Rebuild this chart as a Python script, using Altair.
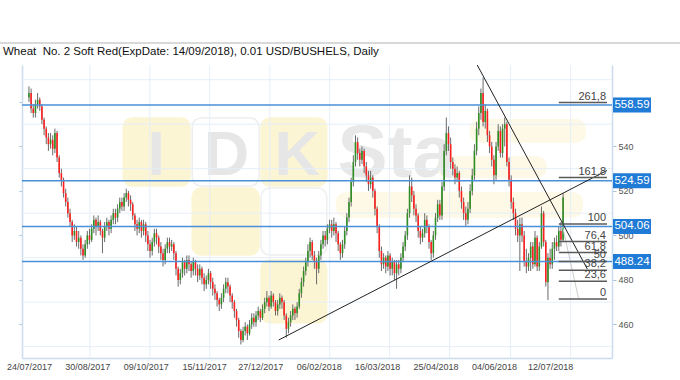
import altair as alt
import pandas as pd

# ---------------- data ----------------
title_text = "Wheat\u00a0 No. 2 Soft Red(ExpDate: 14/09/2018), 0.01 USD/BUSHELS, Daily"

first_open = 562
closes = [
    564, 557, 555, 559, 561, 558, 552, 548, 544, 541,
    543, 539, 546, 535, 528, 525, 519, 515, 510, 506,
    500, 502, 497, 499, 494, 491, 496, 500, 498, 503,
    507, 504, 506, 502, 499, 504, 506, 503, 507, 510,
    508, 512, 515, 513, 517, 519, 516, 514, 509, 505,
    503, 506, 502, 505, 500, 496, 493, 497, 501, 499,
    495, 492, 489, 494, 497, 495, 496, 492, 485, 480,
    483, 488, 485, 489, 487, 484, 488, 485, 482, 485,
    481, 478, 480, 483, 479, 476, 474, 471, 469, 472,
    476, 479, 477, 473, 470, 466, 462, 457, 453, 457,
    459, 456, 460, 463, 461, 464, 466, 463, 467, 470,
    472, 468, 473, 470, 466, 469, 472, 470, 464, 458,
    461, 464, 467, 465, 468, 474, 479, 484, 488, 493,
    497, 491, 488, 485, 491, 496, 500, 498, 503, 505,
    502, 505, 501, 496, 492, 496, 502, 508, 515, 524,
    533, 542, 537, 534, 538, 531, 527, 523, 526, 520,
    512, 504, 493, 487, 490, 486, 491, 485, 488, 483,
    487, 485, 490, 495, 500, 510, 522, 518, 512, 509,
    502, 499, 501, 507, 504, 497, 492, 500, 508, 514,
    509, 522, 538, 546, 541, 533, 530, 526, 528, 520,
    515, 510, 507, 512, 520, 527, 538, 548, 555, 564,
    551, 556, 545, 540, 534, 527, 540, 547, 537, 548,
    550, 533, 525, 515, 510, 503, 500, 505, 500, 488,
    486, 490, 495, 487, 499, 486, 495, 510, 497, 479,
    490, 487, 494, 497, 495, 502, 498, 517,
]
highs = [
    567, 566, 559, 561, 564, 562, 559, 553, 549, 546,
    546, 545, 548, 547, 536, 530, 526, 521, 517, 512,
    507, 505, 504, 502, 500, 496, 498, 502, 503, 505,
    509, 508, 509, 507, 503, 506, 508, 507, 509, 512,
    512, 514, 517, 517, 519, 521, 520, 518, 515, 510,
    507, 508, 507, 507, 506, 502, 498, 499, 503, 503,
    500, 497, 494, 496, 499, 499, 498, 497, 493, 486,
    485, 490, 489, 491, 491, 488, 490, 489, 487, 487,
    486, 483, 482, 485, 484, 481, 478, 475, 472, 474,
    478, 481, 481, 478, 474, 471, 467, 463, 458, 459,
    461, 460, 462, 465, 465, 466, 468, 467, 469, 472,
    475, 473, 475, 474, 471, 471, 474, 473, 471, 465,
    463, 466, 469, 468, 470, 476, 481, 486, 490, 496,
    499, 498, 493, 490, 493, 498, 502, 502, 505, 507,
    507, 508, 506, 502, 497, 498, 504, 510, 517, 526,
    536, 545, 544, 539, 540, 539, 533, 529, 529, 527,
    521, 513, 505, 495, 492, 491, 493, 492, 490, 489,
    489, 489, 492, 497, 502, 512, 527, 526, 520, 514,
    510, 504, 503, 510, 509, 505, 498, 502, 510, 516,
    516, 524, 541, 553, 549, 544, 535, 532, 531, 529,
    522, 517, 513, 515, 523, 530, 541, 551, 558, 566,
    571, 559, 557, 547, 542, 536, 542, 550, 549, 550,
    553, 551, 535, 527, 517, 512, 507, 508, 508, 502,
    494, 492, 497, 497, 502, 500, 497, 513, 511, 498,
    492, 494, 497, 499, 500, 504, 506, 519,
]
lows = [
    560, 555, 553, 553, 557, 556, 550, 545, 541, 538,
    539, 536, 537, 533, 526, 522, 517, 513, 508, 504,
    497, 498, 495, 494, 491, 489, 490, 494, 496, 497,
    501, 500, 502, 500, 492, 497, 502, 500, 501, 505,
    505, 506, 510, 511, 511, 515, 513, 511, 507, 502,
    500, 501, 499, 500, 497, 493, 490, 491, 495, 496,
    492, 489, 486, 487, 492, 492, 493, 489, 482, 477,
    478, 481, 482, 483, 484, 481, 482, 482, 479, 480,
    478, 475, 476, 478, 476, 473, 471, 468, 466, 467,
    470, 474, 474, 470, 467, 463, 459, 454, 451, 452,
    455, 453, 455, 458, 459, 459, 462, 461, 462, 465,
    468, 466, 467, 468, 464, 464, 467, 467, 462, 454,
    456, 459, 462, 462, 463, 467, 472, 477, 482, 486,
    490, 489, 485, 478, 483, 489, 494, 495, 496, 501,
    499, 500, 497, 493, 489, 490, 494, 500, 506, 513,
    522, 531, 534, 531, 532, 528, 524, 520, 521, 517,
    509, 501, 490, 484, 485, 483, 484, 482, 482, 480,
    476, 482, 483, 488, 493, 498, 508, 515, 509, 506,
    499, 496, 497, 499, 501, 494, 489, 490, 498, 506,
    507, 507, 520, 536, 538, 530, 527, 523, 524, 517,
    512, 507, 504, 505, 510, 518, 525, 536, 545, 552,
    549, 548, 542, 537, 531, 523, 525, 538, 535, 535,
    540, 531, 522, 512, 507, 500, 497, 484, 497, 486,
    483, 484, 484, 485, 486, 484, 484, 494, 495, 477,
    471, 485, 485, 489, 493, 493, 495, 497,
]

date_labels = ["24/07/2017", "30/08/2017", "09/10/2017", "15/11/2017", "27/12/2017",
               "06/02/2018", "16/03/2018", "25/04/2018", "04/06/2018", "12/07/2018"]
date_label_bars = [0, 27, 54, 81, 107, 134, 161, 188, 215, 241]
vgrid_bars = [28.2, 55.9, 83.6, 111.4, 139.1, 166.8, 194.5, 222.7, 250.5]
hgrid_prices = [450, 470, 490, 510, 530, 550, 570]
price_ticks = [460, 480, 500, 520, 540, 560]

price_levels = [558.59, 524.59, 504.06, 488.24]

fib_levels = [0, 23.6, 38.2, 50, 61.8, 76.4, 100, 161.8, 261.8]
fib_labels = ["0", "23,6", "38,2", "50", "61,8", "76,4", "100", "161,8", "261,8"]
fib_low = 471.46
fib_high = 505.17
fib_start_bar = 245

trend_names = ["up", "up", "down", "down"]
trend_bars = [115.5, 267.3, 207.3, 258.2]
trend_prices = [453.0, 529.2, 576.6, 484.9]

fib_diag_bars = [246.8, 254.1]
fib_diag_prices = [503.8, 471.9]

# watermark logo (faint)
tile_x = [43.6, 75.5, 107.3, 75.5, 107.3, 107.3, 142.3, 189.1, 204.1]
tile_x2 = [74.5, 106.4, 137.7, 106.4, 137.7, 137.7, 255.9, 239.1, 257.3]
tile_y = [552.8, 552.8, 552.8, 521.3, 521.3, 489.0, 519.1, 535.3, 552.0]
tile_y2 = [522.2, 522.2, 522.2, 491.2, 491.2, 460.7, 508.3, 526.3, 542.0]
tile_fill = ["#fcf5d4", "#ffffff", "#fcf5d4", "#fcf5d4", "#ffffff", "#fcf5d4",
             "#fdf9e6", "#fdf9e6", "#fdf9e6"]
tile_stroke = ["#fcf5d4", "#eeeeee", "#fcf5d4", "#fcf5d4", "#eeeeee", "#fcf5d4",
               "#fdf9e6", "#fdf9e6", "#fdf9e6"]
logo_letters = ["I", "D", "K"]
logo_letter_bars = [58.9, 91.4, 124.1]
logo_letter_price = 527.2
logo_word = "Sta"
logo_word_bar = 142.7
logo_word_price = 526.3

X_DOMAIN = [-0.9, 267.3]
Y_DOMAIN = [444.9, 576.6]

# ---------------- build tables ----------------
n = len(closes)
opens = [first_open] + closes[:-1]
candles = pd.DataFrame({
    "bar": list(range(n)),
    "open": opens,
    "close": closes,
    "high": highs,
    "low": lows,
})
candles["dir"] = ["up" if c >= o else "down" for o, c in zip(opens, closes)]

levels_df = pd.DataFrame({"price": price_levels,
                          "label": [f"{p:.2f}" for p in price_levels]})
fib_df = pd.DataFrame({"lvl": fib_levels, "label": fib_labels})
fib_df["price"] = [fib_low + l / 100.0 * (fib_high - fib_low) for l in fib_levels]
fib_df["start"] = fib_start_bar
fib_df["end"] = X_DOMAIN[1]

trend_df = pd.DataFrame({"line": trend_names, "bar": trend_bars, "price": trend_prices})
diag_df = pd.DataFrame({"bar": fib_diag_bars, "price": fib_diag_prices})

tiles_df = pd.DataFrame({"x": tile_x, "x2": tile_x2, "y": tile_y, "y2": tile_y2,
                         "fill": tile_fill, "stroke": tile_stroke})
letters_df = pd.DataFrame({"t": logo_letters, "bar": logo_letter_bars,
                           "price": [logo_letter_price] * len(logo_letters)})
word_df = pd.DataFrame({"t": [logo_word], "bar": [logo_word_bar], "price": [logo_word_price]})
title_df = pd.DataFrame({"t": [title_text]})

xs = alt.Scale(domain=X_DOMAIN, nice=False, zero=False)
ys = alt.Scale(domain=Y_DOMAIN, nice=False, zero=False)

label_expr = ""
for b, t in zip(date_label_bars, date_labels):
    label_expr += f"datum.value == {b} ? '{t}' : "
label_expr += "''"

GRID = "#e5eef8"
AXIS = "#cadcef"
FONT = "Liberation Sans"

# ---------------- layers ----------------
tiles = alt.Chart(tiles_df).mark_rect(cornerRadius=9, strokeWidth=1.5).encode(
    x=alt.X("x:Q", scale=xs, axis=None), x2="x2:Q",
    y=alt.Y("y:Q", scale=ys, axis=None), y2="y2:Q",
    fill=alt.Fill("fill:N", scale=None), stroke=alt.Stroke("stroke:N", scale=None),
)
letters = alt.Chart(letters_df).mark_text(
    fontSize=63, fontWeight="bold", font=FONT, color="#e6e6e6",
    align="center", baseline="alphabetic",
).encode(x=alt.X("bar:Q", scale=xs, axis=None), y=alt.Y("price:Q", scale=ys, axis=None), text="t:N")
word = alt.Chart(word_df).mark_text(
    fontSize=75, fontWeight="bold", font=FONT, color="#e8e8e8",
    align="left", baseline="alphabetic",
).encode(x=alt.X("bar:Q", scale=xs, axis=None), y=alt.Y("price:Q", scale=ys, axis=None), text="t:N")

hgrid = alt.Chart(pd.DataFrame({"p": hgrid_prices})).mark_rule(color=GRID, strokeWidth=1).encode(
    y=alt.Y("p:Q", scale=ys, axis=alt.Axis(
        orient="left", values=price_ticks, labels=False, grid=False, ticks=True,
        tickSize=3, tickColor="#a8c2dc", domainColor=AXIS, domainWidth=1.5, title=None)),
)
vgrid = alt.Chart(pd.DataFrame({"b": vgrid_bars})).mark_rule(color=GRID, strokeWidth=1).encode(
    x=alt.X("b:Q", scale=xs, axis=alt.Axis(
        orient="bottom", values=date_label_bars, labelExpr=label_expr, ticks=False,
        grid=False, domainColor=AXIS, domainWidth=1.5, labelFontSize=9, labelColor="#444",
        labelFont=FONT, labelPadding=4, labelOverlap=False, labelFlush=False,
        labelBound=False, title=None)),
)

wicks = alt.Chart(candles).mark_rule(color="#6a6a6a", strokeWidth=1).encode(
    x=alt.X("bar:Q", scale=xs, axis=None),
    y=alt.Y("low:Q", scale=ys, axis=alt.Axis(
        orient="right", values=price_ticks, grid=False, tickSize=4, tickColor="#a8c2dc",
        domainColor=AXIS, domainWidth=1.5, labelFontSize=9, labelColor="#555",
        labelFont=FONT, labelPadding=2, title=None)),
    y2="high:Q",
)
bodies = alt.Chart(candles).mark_bar(width=1.6).encode(
    x=alt.X("bar:Q", scale=xs, axis=None),
    y=alt.Y("open:Q", scale=ys, axis=None),
    y2="close:Q",
    color=alt.Color("dir:N", scale=alt.Scale(domain=["up", "down"],
                                             range=["#2f8f22", "#ff1f1f"]), legend=None),
)

price_lines = alt.Chart(levels_df).mark_rule(color="#4a90d9", strokeWidth=1.5).encode(
    y=alt.Y("price:Q", scale=ys, axis=None))

trend = alt.Chart(trend_df).mark_line(color="#222222", strokeWidth=1).encode(
    x=alt.X("bar:Q", scale=xs, axis=None), y=alt.Y("price:Q", scale=ys, axis=None),
    detail="line:N")
diag = alt.Chart(diag_df).mark_line(color="#cccccc", strokeWidth=1).encode(
    x=alt.X("bar:Q", scale=xs, axis=None), y=alt.Y("price:Q", scale=ys, axis=None))

fib_lines = alt.Chart(fib_df).mark_rule(color="#5a5a5a", strokeWidth=1.5).encode(
    x=alt.X("start:Q", scale=xs, axis=None), x2="end:Q",
    y=alt.Y("price:Q", scale=ys, axis=None))
fib_text = alt.Chart(fib_df).mark_text(
    align="right", baseline="bottom", dx=-1, dy=-1, fontSize=11, font=FONT, color="#444"
).encode(x=alt.X("end:Q", scale=xs, axis=None), y=alt.Y("price:Q", scale=ys, axis=None),
         text="label:N")

price_boxes = alt.Chart(levels_df).mark_tick(
    color="#1f7bd6", thickness=15, size=38, opacity=1, orient="horizontal"
).encode(x=alt.value(610), y=alt.Y("price:Q", scale=ys, axis=None))
price_text = alt.Chart(levels_df).mark_text(
    color="white", fontSize=11.5, font=FONT, align="center", baseline="middle"
).encode(x=alt.value(610), y=alt.Y("price:Q", scale=ys, axis=None), text="label:N")

separator = alt.Chart(title_df).mark_rule(color="#cccccc", strokeWidth=1.5).encode(
    x=alt.value(-22), x2=alt.value(658), y=alt.value(-22))
title = alt.Chart(title_df).mark_text(
    align="left", baseline="alphabetic", fontSize=11.5, font=FONT, color="#111"
).encode(x=alt.value(-19), y=alt.value(-10), text="t:N")

chart = alt.layer(
    tiles, letters, word, hgrid, vgrid, wicks, bodies, price_lines, trend, diag,
    fib_lines, fib_text, price_boxes, price_text, separator, title,
).resolve_axis(y="independent", x="independent").properties(
    width=590, height=293,
    padding={"left": 22, "top": 65, "right": 68, "bottom": 22},
    autosize=alt.AutoSizeParams(type="none"),
    background="white",
).configure_view(stroke=None)

chart.save("out.html", embed_options={"renderer": "svg", "actions": False})
